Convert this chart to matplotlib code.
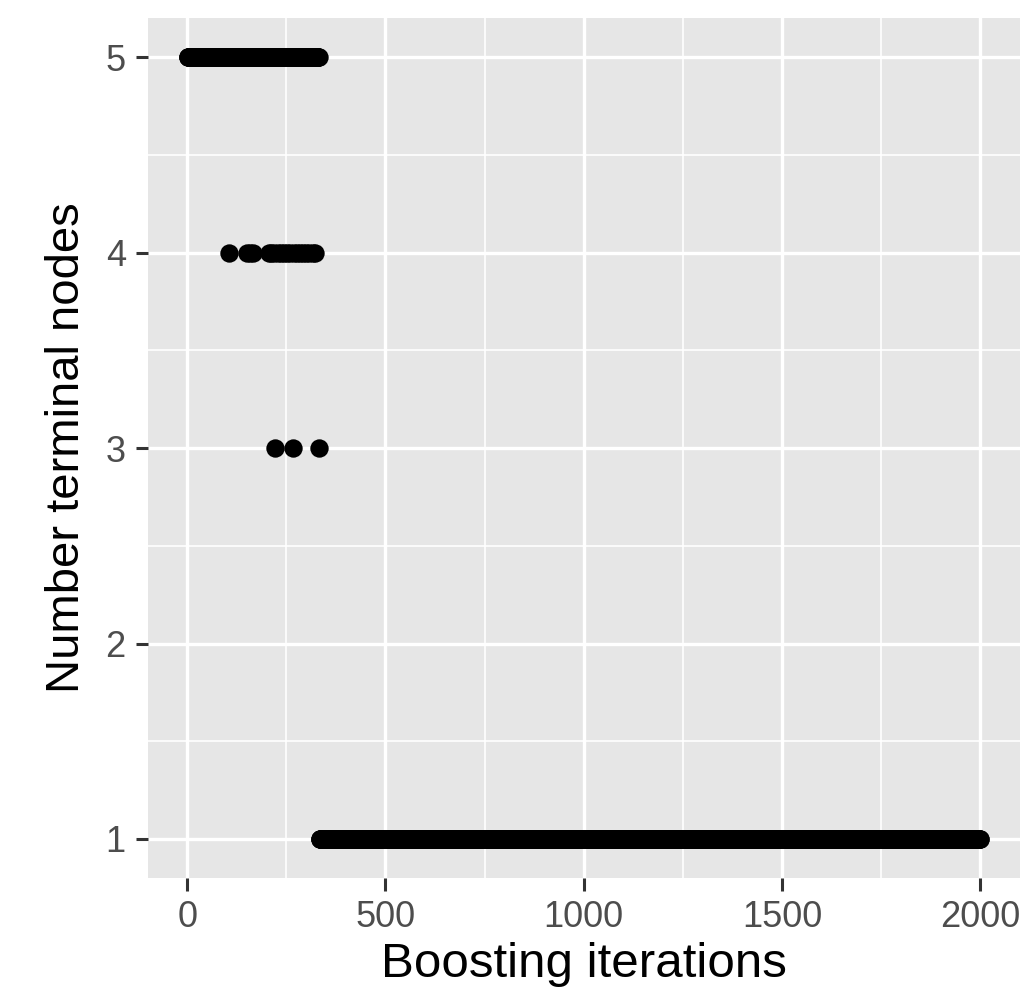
import numpy as np
import matplotlib
matplotlib.use("Agg")
import matplotlib.pyplot as plt
from matplotlib.ticker import MultipleLocator

# boosting iterations 1..n_iter; early ones use 5 terminal nodes, later 1
n_iter = 2000
last_iter_5 = 333
iters_4 = [105, 150, 158, 166, 205, 212, 220, 228, 236, 244, 252, 260, 268,
           276, 284, 292, 300, 308, 316, 322]
iters_3 = [221, 266, 332]

x_ticks = [0, 500, 1000, 1500, 2000]
y_ticks = [1, 2, 3, 4, 5]

iterations = np.arange(1, n_iter + 1)
nodes = np.where(iterations <= last_iter_5, 5, 1)
nodes[np.array(iters_4) - 1] = 4
nodes[np.array(iters_3) - 1] = 3

plt.rcParams['font.family'] = ['Liberation Sans', 'DejaVu Sans']

fig = plt.figure(figsize=(10.25, 9.94), dpi=100)
ax = fig.add_axes([0.1444, 0.1167, 0.8506, 0.865])
ax.set_facecolor('#E6E6E6')

ax.scatter(iterations, nodes, s=175, color='black', linewidths=0, zorder=3)

ax.set_xlim(1 - 0.05 * (n_iter - 1), n_iter + 0.05 * (n_iter - 1))
ax.set_ylim(0.8, 5.2)
ax.set_xticks(x_ticks)
ax.set_yticks(y_ticks)
ax.xaxis.set_minor_locator(MultipleLocator(250))
ax.yaxis.set_minor_locator(MultipleLocator(0.5))

ax.grid(which='major', color='white', linewidth=2.4, zorder=0)
ax.grid(which='minor', color='white', linewidth=1.2, zorder=0)
ax.set_axisbelow(True)
for s in ax.spines.values():
    s.set_visible(False)

ax.tick_params(which='major', length=9, width=2.2, color='#333333',
               labelsize=26, labelcolor='#4D4D4D', pad=7)
ax.tick_params(which='minor', length=0)

ax.set_xlabel('Boosting iterations', fontsize=35.5, labelpad=5)
ax.set_ylabel('Number terminal nodes', fontsize=34, labelpad=12)

fig.savefig('out.png', dpi=100)
